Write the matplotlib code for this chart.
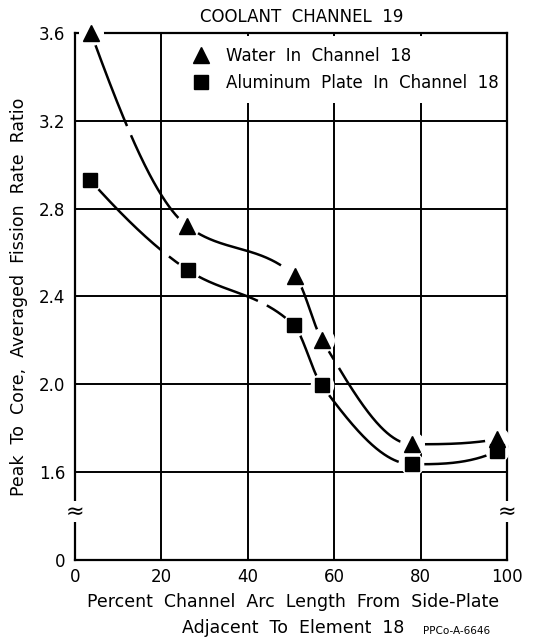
import numpy as np
import matplotlib.pyplot as plt

# values
x_water = np.array([3.7, 26.0, 50.8, 57.2, 78.0, 97.6])
y_water = np.array([3.60, 2.72, 2.495, 2.20, 1.727, 1.75])
x_alum = np.array([3.5, 26.1, 50.6, 57.1, 78.0, 97.6])
y_alum = np.array([2.93, 2.52, 2.27, 1.995, 1.636, 1.695])

x_ticks = [0, 20, 40, 60, 80, 100]
y_ticks = [1.2, 1.6, 2.0, 2.4, 2.8, 3.2, 3.6]
y_ticklabels = ['0', '1.6', '2.0', '2.4', '2.8', '3.2', '3.6']


def _end_slope(h0, h1, d0, d1):
    m = ((2 * h0 + h1) * d0 - h0 * d1) / (h0 + h1)
    if np.sign(m) != np.sign(d0):
        return 0.0
    if np.sign(d0) != np.sign(d1) and abs(m) > abs(3 * d0):
        return 3 * d0
    return m


def pchip(x, y, xs):
    # monotone cubic through the points, only used to draw a smooth curve
    h = np.diff(x)
    d = np.diff(y) / h
    m = np.zeros_like(y)
    for k in range(1, len(x) - 1):
        if d[k - 1] * d[k] > 0:
            w1 = 2 * h[k] + h[k - 1]
            w2 = h[k] + 2 * h[k - 1]
            m[k] = (w1 + w2) / (w1 / d[k - 1] + w2 / d[k])
    m[0] = _end_slope(h[0], h[1], d[0], d[1])
    m[-1] = _end_slope(h[-1], h[-2], d[-1], d[-2])
    k = np.clip(np.searchsorted(x, xs) - 1, 0, len(x) - 2)
    t = (xs - x[k]) / h[k]
    h00 = 2 * t**3 - 3 * t**2 + 1
    h10 = t**3 - 2 * t**2 + t
    h01 = -2 * t**3 + 3 * t**2
    h11 = t**3 - t**2
    return h00 * y[k] + h10 * h[k] * m[k] + h01 * y[k + 1] + h11 * h[k] * m[k + 1]


plt.rcParams['font.family'] = 'DejaVu Sans'
fig = plt.figure(figsize=(5.43, 6.43), dpi=100)
ax = fig.add_axes([0.138, 0.129, 0.796, 0.82])

xs_w = np.linspace(x_water[0], x_water[-1], 500)
xs_a = np.linspace(x_alum[0], x_alum[-1], 500)
ax.plot(xs_w, pchip(x_water, y_water, xs_w), color='black', lw=1.8,
        ls=(0, (40, 4)), zorder=3, clip_on=False)
ax.plot(xs_a, pchip(x_alum, y_alum, xs_a), color='black', lw=1.8,
        ls=(0, (40, 4)), zorder=3, clip_on=False)

# white halos so the curves break around each point
ax.plot(x_water, y_water, 'o', ms=17, color='white', zorder=4, clip_on=False)
ax.plot(x_alum, y_alum, 'o', ms=16, color='white', zorder=4, clip_on=False)
hw, = ax.plot(x_water, y_water, '^', ms=11, color='black', ls='none',
              zorder=5, clip_on=False)
ha, = ax.plot(x_alum, y_alum, 's', ms=10, color='black', ls='none',
              zorder=5, clip_on=False)

ax.set_xlim(0, 100)
ax.set_ylim(1.2, 3.6)
ax.set_xticks(x_ticks)
ax.set_yticks(y_ticks)
ax.set_yticklabels(y_ticklabels)
ax.tick_params(axis='x', length=0, labelsize=12, pad=6)
ax.tick_params(axis='y', length=0, labelsize=12, pad=7)
ax.grid(True, color='black', lw=1.4)
ax.set_axisbelow(True)
for s in ax.spines.values():
    s.set_linewidth(1.6)

leg = ax.legend([hw, ha], ['Water  In  Channel  18', 'Aluminum  Plate  In  Channel  18'],
                loc='upper left', bbox_to_anchor=(0.24, 1.0), frameon=True,
                fontsize=12, handletextpad=1.0, borderpad=0.65,
                labelspacing=0.55, handlelength=1.0, borderaxespad=0.2)
leg.get_frame().set_edgecolor('none')
leg.get_frame().set_facecolor('white')
leg.get_frame().set_alpha(1)
leg.set_zorder(2)

# axis break marks
for xb in (0, 100):
    ax.text(xb, 1.42, '≈', fontsize=16, ha='center', va='center',
            bbox=dict(facecolor='white', edgecolor='none', pad=0.5), zorder=6,
            clip_on=False)

ax.text(0.525, 1.012, 'COOLANT  CHANNEL  19', transform=ax.transAxes,
        fontsize=12, ha='center', va='bottom')
fig.text(0.54, 0.064, 'Percent  Channel  Arc  Length  From  Side-Plate',
         fontsize=12.5, ha='center', va='center')
fig.text(0.54, 0.023, 'Adjacent  To  Element  18', fontsize=12.5,
         ha='center', va='center')
ax.set_ylabel('Peak  To  Core,  Averaged  Fission  Rate  Ratio', fontsize=12.5,
              labelpad=8)
fig.text(0.779, 0.019, 'PPCo-A-6646', fontsize=7.5, ha='left', va='center')

fig.savefig('out.png', dpi=100)
